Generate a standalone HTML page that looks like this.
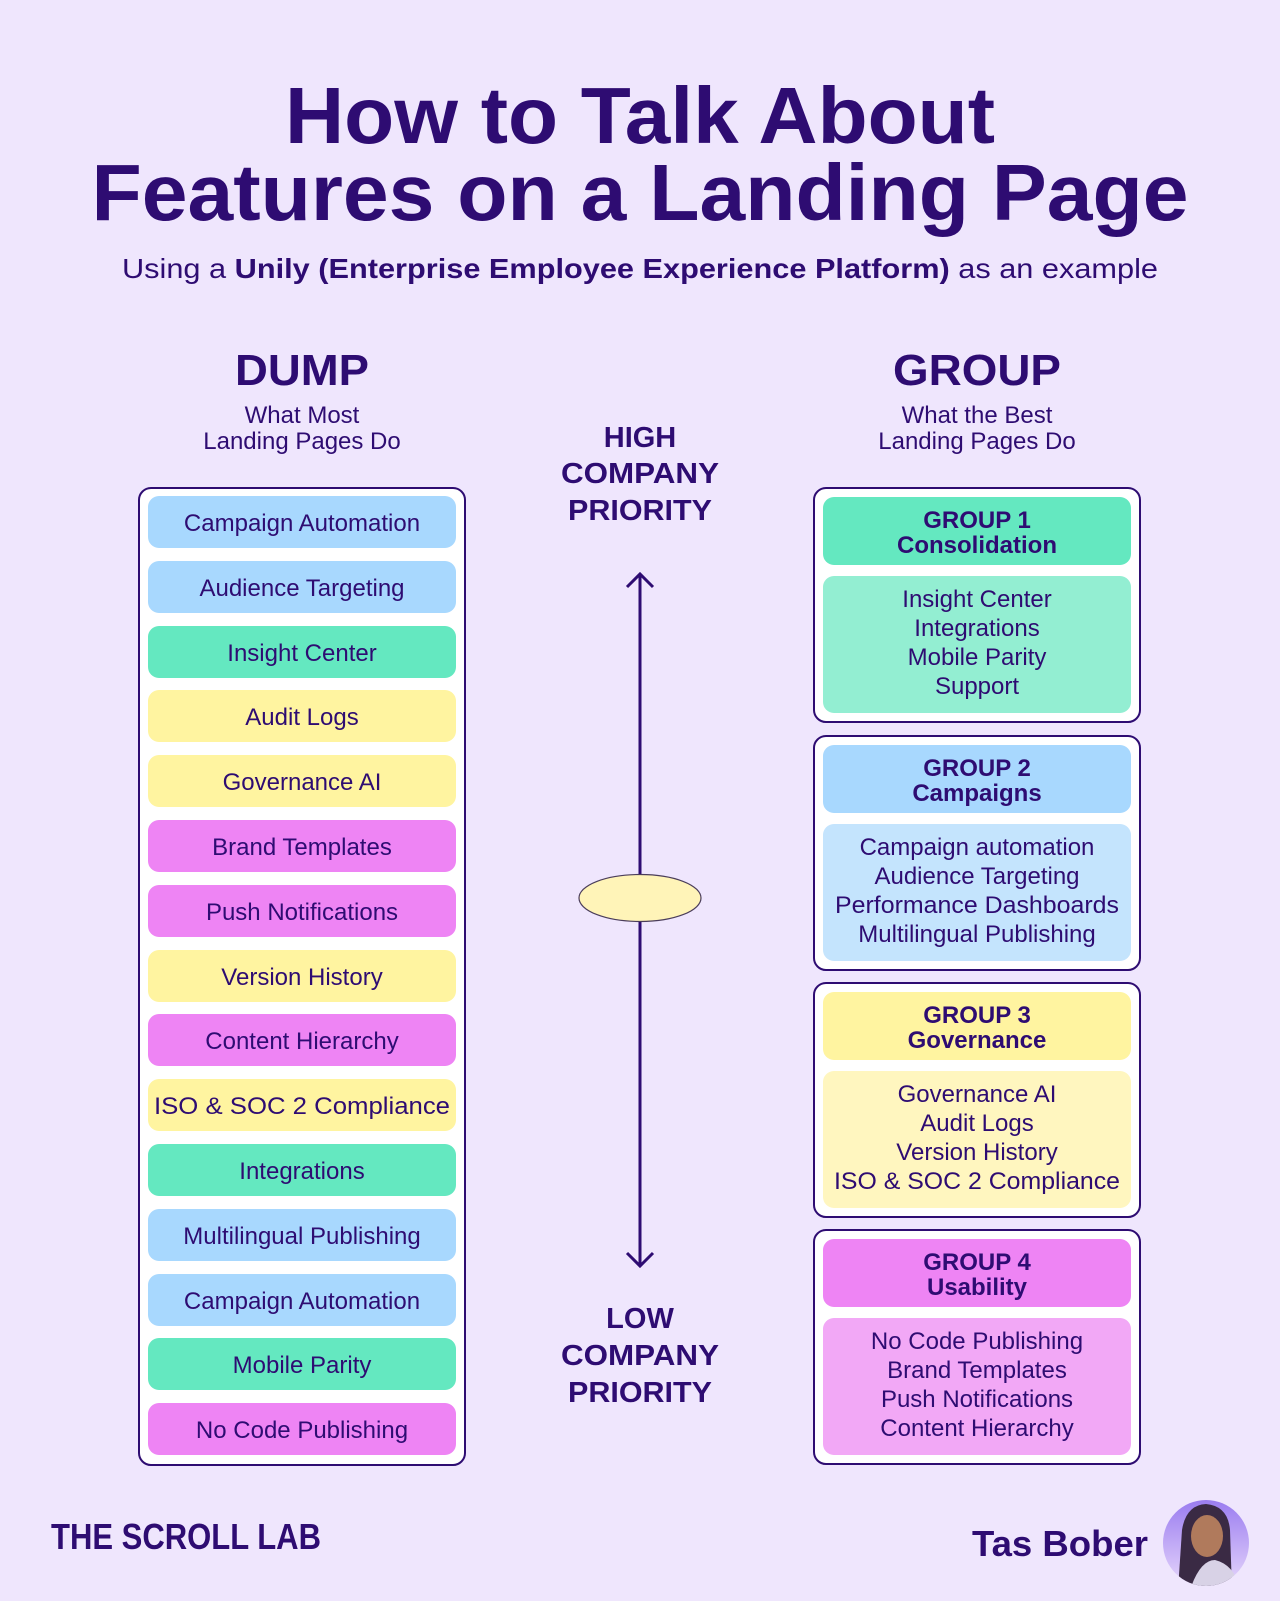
<!DOCTYPE html>
<html><head><meta charset="utf-8"><style>
html,body{margin:0;padding:0;background:#efe6fd;}
svg{display:block}
text{font-family:"Liberation Sans",sans-serif;fill:#2e0c72}
.b{font-weight:bold}
</style></head><body>
<svg width="1280" height="1601" viewBox="0 0 1280 1601" xmlns="http://www.w3.org/2000/svg">
<rect width="1280" height="1601" fill="#efe6fd"/>
<text x="640" y="143" font-size="80" class="b" text-anchor="middle" textLength="710" lengthAdjust="spacingAndGlyphs">How to Talk About</text>
<text x="640" y="220" font-size="80" class="b" text-anchor="middle" textLength="1097" lengthAdjust="spacingAndGlyphs">Features on a Landing Page</text>
<text x="640" y="278" font-size="28" text-anchor="middle" textLength="1036" lengthAdjust="spacingAndGlyphs">Using a <tspan class="b">Unily (Enterprise Employee Experience Platform)</tspan> as an example</text>

<text x="302" y="385" font-size="44" class="b" text-anchor="middle" textLength="134" lengthAdjust="spacingAndGlyphs">DUMP</text>
<text x="302" y="423" font-size="24" text-anchor="middle">What Most</text>
<text x="302" y="449" font-size="24" text-anchor="middle">Landing Pages Do</text>
<text x="977" y="385" font-size="44" class="b" text-anchor="middle" textLength="168" lengthAdjust="spacingAndGlyphs">GROUP</text>
<text x="977" y="423" font-size="24" text-anchor="middle">What the Best</text>
<text x="977" y="449" font-size="24" text-anchor="middle">Landing Pages Do</text>

<rect x="139" y="488" width="326" height="977" rx="12" fill="#fff" stroke="#2e0c72" stroke-width="2"/>
<g font-size="24" text-anchor="middle">
<rect x="148" y="496" width="308" height="52" rx="11" fill="#a8d8fe"/><text x="302" y="531">Campaign Automation</text>
<rect x="148" y="561" width="308" height="52" rx="11" fill="#a8d8fe"/><text x="302" y="596">Audience Targeting</text>
<rect x="148" y="626" width="308" height="52" rx="11" fill="#64e8c0"/><text x="302" y="661">Insight Center</text>
<rect x="148" y="690" width="308" height="52" rx="11" fill="#fff4a0"/><text x="302" y="725">Audit Logs</text>
<rect x="148" y="755" width="308" height="52" rx="11" fill="#fff4a0"/><text x="302" y="790">Governance AI</text>
<rect x="148" y="820" width="308" height="52" rx="11" fill="#ee84f4"/><text x="302" y="855">Brand Templates</text>
<rect x="148" y="885" width="308" height="52" rx="11" fill="#ee84f4"/><text x="302" y="920">Push Notifications</text>
<rect x="148" y="950" width="308" height="52" rx="11" fill="#fff4a0"/><text x="302" y="985">Version History</text>
<rect x="148" y="1014" width="308" height="52" rx="11" fill="#ee84f4"/><text x="302" y="1049">Content Hierarchy</text>
<rect x="148" y="1079" width="308" height="52" rx="11" fill="#fff4a0"/><text x="302" y="1114" textLength="296" lengthAdjust="spacingAndGlyphs">ISO &amp; SOC 2 Compliance</text>
<rect x="148" y="1144" width="308" height="52" rx="11" fill="#64e8c0"/><text x="302" y="1179">Integrations</text>
<rect x="148" y="1209" width="308" height="52" rx="11" fill="#a8d8fe"/><text x="302" y="1244">Multilingual Publishing</text>
<rect x="148" y="1274" width="308" height="52" rx="11" fill="#a8d8fe"/><text x="302" y="1309">Campaign Automation</text>
<rect x="148" y="1338" width="308" height="52" rx="11" fill="#64e8c0"/><text x="302" y="1373">Mobile Parity</text>
<rect x="148" y="1403" width="308" height="52" rx="11" fill="#ee84f4"/><text x="302" y="1438">No Code Publishing</text>
</g>

<g font-size="29" class="b" text-anchor="middle">
<text x="640" y="447">HIGH</text>
<text x="640" y="483" textLength="158" lengthAdjust="spacingAndGlyphs">COMPANY</text>
<text x="640" y="520" textLength="144" lengthAdjust="spacingAndGlyphs">PRIORITY</text>
<text x="640" y="1328">LOW</text>
<text x="640" y="1365" textLength="158" lengthAdjust="spacingAndGlyphs">COMPANY</text>
<text x="640" y="1402" textLength="144" lengthAdjust="spacingAndGlyphs">PRIORITY</text>
</g>
<line x1="640" y1="575" x2="640" y2="1265" stroke="#2e0c72" stroke-width="3"/>
<polyline points="627,587 640,574 653,587" fill="none" stroke="#2e0c72" stroke-width="3"/>
<polyline points="627,1253 640,1266 653,1253" fill="none" stroke="#2e0c72" stroke-width="3"/>
<ellipse cx="640" cy="898" rx="61" ry="23.5" fill="#fff4b8" stroke="#4a3d5a" stroke-width="1.2"/>

<g text-anchor="middle">
<rect x="814" y="488" width="326" height="234" rx="12" fill="#fff" stroke="#2e0c72" stroke-width="2"/>
<rect x="823" y="497" width="308" height="68" rx="11" fill="#64e8c0"/>
<rect x="823" y="576" width="308" height="137" rx="11" fill="#93eed2"/>
<text x="977" y="528" font-size="24" class="b">GROUP 1</text>
<text x="977" y="553" font-size="24" class="b">Consolidation</text>
<text x="977" y="607" font-size="24">Insight Center</text>
<text x="977" y="636" font-size="24">Integrations</text>
<text x="977" y="665" font-size="24">Mobile Parity</text>
<text x="977" y="694" font-size="24">Support</text>

<rect x="814" y="736" width="326" height="234" rx="12" fill="#fff" stroke="#2e0c72" stroke-width="2"/>
<rect x="823" y="745" width="308" height="68" rx="11" fill="#a8d8fe"/>
<rect x="823" y="824" width="308" height="137" rx="11" fill="#c4e4fd"/>
<text x="977" y="776" font-size="24" class="b">GROUP 2</text>
<text x="977" y="801" font-size="24" class="b">Campaigns</text>
<text x="977" y="855" font-size="24">Campaign automation</text>
<text x="977" y="884" font-size="24">Audience Targeting</text>
<text x="977" y="913" font-size="24" textLength="284" lengthAdjust="spacingAndGlyphs">Performance Dashboards</text>
<text x="977" y="942" font-size="24">Multilingual Publishing</text>

<rect x="814" y="983" width="326" height="234" rx="12" fill="#fff" stroke="#2e0c72" stroke-width="2"/>
<rect x="823" y="992" width="308" height="68" rx="11" fill="#fff4a0"/>
<rect x="823" y="1071" width="308" height="137" rx="11" fill="#fff6bf"/>
<text x="977" y="1023" font-size="24" class="b">GROUP 3</text>
<text x="977" y="1048" font-size="24" class="b">Governance</text>
<text x="977" y="1102" font-size="24">Governance AI</text>
<text x="977" y="1131" font-size="24">Audit Logs</text>
<text x="977" y="1160" font-size="24">Version History</text>
<text x="977" y="1189" font-size="24" textLength="286" lengthAdjust="spacingAndGlyphs">ISO &amp; SOC 2 Compliance</text>

<rect x="814" y="1230" width="326" height="234" rx="12" fill="#fff" stroke="#2e0c72" stroke-width="2"/>
<rect x="823" y="1239" width="308" height="68" rx="11" fill="#ee84f4"/>
<rect x="823" y="1318" width="308" height="137" rx="11" fill="#f2a8f6"/>
<text x="977" y="1270" font-size="24" class="b">GROUP 4</text>
<text x="977" y="1295" font-size="24" class="b">Usability</text>
<text x="977" y="1349" font-size="24">No Code Publishing</text>
<text x="977" y="1378" font-size="24">Brand Templates</text>
<text x="977" y="1407" font-size="24">Push Notifications</text>
<text x="977" y="1436" font-size="24">Content Hierarchy</text>
</g>

<text x="51" y="1549" font-size="36" class="b" textLength="270" lengthAdjust="spacingAndGlyphs">THE SCROLL LAB</text>
<text x="1148" y="1556" font-size="36" class="b" text-anchor="end" textLength="176" lengthAdjust="spacingAndGlyphs">Tas Bober</text>
<defs>
<linearGradient id="av" x1="0" y1="0" x2="0" y2="1"><stop offset="0" stop-color="#9a7cf0"/><stop offset="1" stop-color="#e6d6fb"/></linearGradient>
<clipPath id="cc"><circle cx="1206" cy="1543" r="43"/></clipPath>
</defs>
<circle cx="1206" cy="1543" r="43" fill="url(#av)"/>
<g clip-path="url(#cc)">
<path d="M1178,1590 L1182,1530 Q1186,1505 1206,1504 Q1228,1506 1230,1530 L1232,1590 Z" fill="#3a2a44"/>
<ellipse cx="1207" cy="1536" rx="16" ry="21" fill="#b07a5c"/>
<path d="M1190,1590 Q1200,1560 1215,1560 Q1235,1565 1240,1590 Z" fill="#d8d2e6"/>
</g>
</svg>
</body></html>
